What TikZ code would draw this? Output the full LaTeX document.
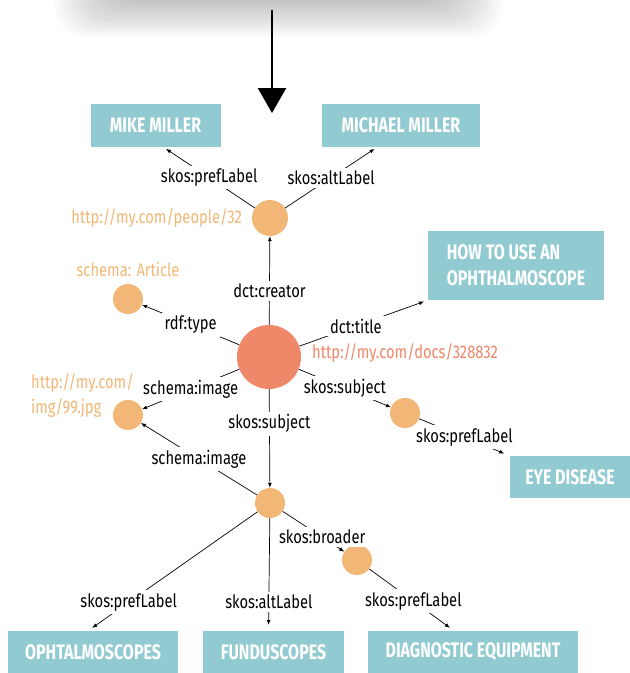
\documentclass[tikz,border=0pt]{standalone}
\usepackage{fontspec}
\setmainfont{Fira Sans}[FakeStretch=0.8]
\newfontfamily\boxfont{Fira Sans}[FakeStretch=0.76]
\usetikzlibrary{arrows.meta}

\definecolor{boxteal}{HTML}{92CAD1}
\definecolor{resorange}{HTML}{F2B776}
\definecolor{docsalmon}{HTML}{EF8769}

\tikzset{
  res/.style={circle,fill=resorange,inner sep=0pt,minimum size=30pt},
  doc/.style={circle,fill=docsalmon,inner sep=0pt,minimum size=64pt},
  lit/.style={fill=boxteal,text=white,font=\boxfont\bfseries\fontsize{21}{26}\selectfont,inner sep=0pt,minimum height=42pt},
  rel/.style={draw,line width=0.7pt,-{Latex[length=5pt,width=4pt]}},
  prop/.style={fill=white,inner sep=3pt,font=\fontsize{18.4}{20}\selectfont},
  uri/.style={inner sep=0pt,font=\fontsize{18.4}{20}\selectfont,text=resorange},
}

\begin{document}
\begin{tikzpicture}[x=1pt,y=-1pt]
  \useasboundingbox (0,0) rectangle (630,673);

  % shadow of the box above
  \begin{scope}
    \clip (0,0) rectangle (630,673);
    \foreach \i in {0,...,13}
      \fill[black,opacity=0.021,rounded corners=30pt] (112-4.4*\i,-80) rectangle (445+4.4*\i,2.8*\i);
  \end{scope}

  \coordinate (flowtop) at (272,10);
  \coordinate (flowend) at (272,113);
  \draw[line width=2.6pt,-{Triangle[length=25pt,width=28pt]}] (flowtop) -- (flowend);

  % literals
  \node (mike) at (155.5,125.5) [lit,minimum width=130pt,minimum height=43pt] {MIKE MILLER};
  \node (michael) at (401,125.5) [lit,minimum width=158pt,minimum height=43pt] {MICHAEL MILLER};
  \node (title) at (516,265.5) [lit,minimum width=176pt,minimum height=69pt,align=left] {HOW TO USE AN\\OPHTHALMOSCOPE};
  \node (eyedisease) at (570,477) [lit,minimum width=120pt] {EYE DISEASE};
  \node (ophtal) at (93,652) [lit,minimum width=170pt] {OPHTALMOSCOPES};
  \node (fundus) at (273.5,652) [lit,minimum width=141pt] {FUNDUSCOPES};
  \node (diag) at (473,652) [lit,minimum width=210pt] {DIAGNOSTIC EQUIPMENT};

  % resources
  \node (doc) at (269,357) [doc] {};
  \node (person) at (270,218) [res,minimum size=36pt] {};
  \node (article) at (128,299) [res] {};
  \node (img) at (128,415) [res] {};
  \node (concept) at (270,503) [res] {};
  \node (eye) at (405,413) [res] {};
  \node (broader) at (357,560) [res] {};

  \node (personuri) at (242,218) [uri,anchor=east] {http://my.com/people/32};
  \node (articleuri) at (128,269) [uri] {schema: Article};
  \node (docuri) at (312,353) [uri,anchor=west,text=docsalmon] {http://my.com/docs/328832};
  \node (imguri) at (31,396) [uri,anchor=west,align=left,font=\fontsize{18.4}{25}\selectfont] {http://my.com/\\img/99.jpg};

  % properties
  \draw[rel,shorten >=3pt] (person) -- node[prop] {skos:prefLabel} ([xshift=8pt]mike.south);
  \draw[rel,shorten >=3pt] (person) -- node[prop] {skos:altLabel} ([xshift=-24pt]michael.south);
  \draw[rel] (doc) -- node[prop,pos=0.38] {dct:creator} (person);
  \draw[rel] (doc) -- node[prop] {rdf:type} (article);
  \draw[rel] (doc) -- node[prop] {schema:image} (img);
  \draw[rel,shorten >=4pt] (doc) -- node[prop,pos=0.44] {dct:title} (title.south west);
  \draw[rel] (doc) -- node[prop] {skos:subject} (eye);
  \draw[rel,shorten >=6pt] (eye) -- node[prop] {skos:prefLabel} (eyedisease.north west);
  \draw[rel] (doc) -- node[prop,pos=0.35] {skos:subject} (concept);
  \draw[rel] (concept) -- node[prop] {schema:image} (img);
  \draw[rel] (concept) -- node[prop,pos=0.64] {skos:broader} (broader);
  \draw[rel,shorten >=5pt] (concept) -- node[prop,pos=0.76] {skos:prefLabel} ([xshift=-5pt]ophtal.north);
  \draw[rel,shorten >=6pt] (concept) -- node[prop,pos=0.74] {skos:altLabel} ([xshift=-5pt]fundus.north);
  \draw[rel,shorten >=5pt] (broader) -- node[prop,pos=0.52] {skos:prefLabel} ([xshift=-19pt]diag.north);
\end{tikzpicture}
\end{document}
